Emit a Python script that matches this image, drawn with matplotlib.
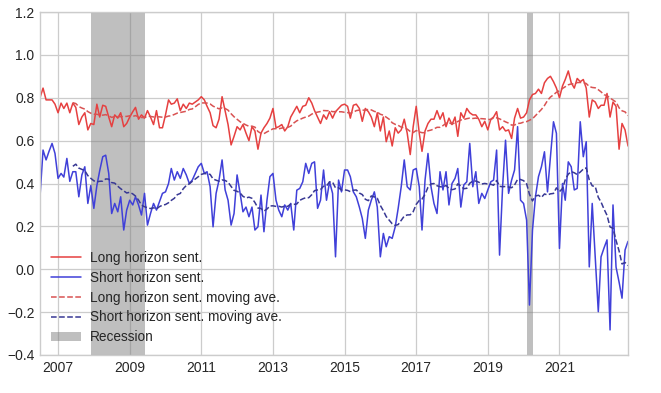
import matplotlib
matplotlib.use("Agg")
import matplotlib.pyplot as plt
import matplotlib.dates as mdates
import pandas as pd
import numpy as np

# Monthly observations, Jul 2006 - Dec 2022
start_month = "2006-07-01"
n_months = 198

long_sent = [
    0.80, 0.845, 0.79, 0.79, 0.79, 0.77,
    0.73, 0.775, 0.75, 0.775, 0.73, 0.775, 0.755, 0.675, 0.71, 0.73, 0.65, 0.68,
    0.675, 0.77, 0.71, 0.765, 0.76, 0.71, 0.665, 0.72, 0.705, 0.73, 0.665, 0.68,
    0.71, 0.735, 0.755, 0.70, 0.72, 0.705, 0.74, 0.71, 0.675, 0.74, 0.66, 0.66,
    0.72, 0.79, 0.77, 0.775, 0.795, 0.74, 0.77, 0.75, 0.775, 0.77, 0.78, 0.79,
    0.805, 0.79, 0.76, 0.73, 0.67, 0.66, 0.70, 0.805, 0.74, 0.675, 0.58, 0.62,
    0.665, 0.65, 0.675, 0.635, 0.60, 0.665, 0.645, 0.56, 0.635, 0.66, 0.68, 0.705,
    0.75, 0.66, 0.665, 0.675, 0.645, 0.665, 0.71, 0.735, 0.76, 0.73, 0.76, 0.765,
    0.80, 0.775, 0.74, 0.71, 0.68, 0.72, 0.70, 0.735, 0.705, 0.735, 0.75, 0.765,
    0.77, 0.76, 0.705, 0.765, 0.77, 0.75, 0.69, 0.75, 0.735, 0.71, 0.665, 0.73,
    0.645, 0.71, 0.595, 0.645, 0.575, 0.66, 0.635, 0.65, 0.70, 0.635, 0.535, 0.665,
    0.76, 0.635, 0.55, 0.645, 0.68, 0.70, 0.70, 0.74, 0.70, 0.73, 0.665, 0.705,
    0.675, 0.71, 0.62, 0.73, 0.705, 0.75, 0.73, 0.72, 0.72, 0.70, 0.665, 0.69,
    0.65, 0.70, 0.71, 0.735, 0.65, 0.665, 0.645, 0.65, 0.61, 0.705, 0.75, 0.705,
    0.71, 0.73, 0.79, 0.815, 0.82, 0.84, 0.82, 0.87, 0.89, 0.90, 0.875, 0.845,
    0.80, 0.855, 0.885, 0.925, 0.87, 0.845, 0.89, 0.875, 0.885, 0.845, 0.71, 0.79,
    0.78, 0.75, 0.765, 0.765, 0.82, 0.71, 0.78, 0.76, 0.56, 0.68, 0.65, 0.575,
]

short_sent = [
    0.338, 0.556, 0.51, 0.55, 0.587, 0.54,
    0.424, 0.447, 0.43, 0.517, 0.41, 0.455, 0.455, 0.338, 0.44, 0.478, 0.307, 0.39,
    0.284, 0.39, 0.46, 0.525, 0.532, 0.447, 0.26, 0.307, 0.268, 0.338, 0.183, 0.276,
    0.322, 0.30, 0.338, 0.30, 0.253, 0.354, 0.206, 0.26, 0.307, 0.276, 0.315, 0.354,
    0.361, 0.40, 0.47, 0.416, 0.455, 0.424, 0.47, 0.44, 0.40, 0.416, 0.447, 0.478,
    0.494, 0.447, 0.455, 0.385, 0.198, 0.354, 0.416, 0.51, 0.37, 0.322, 0.206, 0.26,
    0.44, 0.354, 0.268, 0.29, 0.245, 0.29, 0.183, 0.198, 0.346, 0.175, 0.322, 0.432,
    0.447, 0.322, 0.276, 0.245, 0.30, 0.276, 0.307, 0.183, 0.369, 0.377, 0.408, 0.494,
    0.447, 0.494, 0.501, 0.284, 0.322, 0.463, 0.322, 0.408, 0.354, 0.058, 0.416, 0.361,
    0.463, 0.463, 0.432, 0.361, 0.338, 0.29, 0.237, 0.144, 0.276, 0.322, 0.361, 0.29,
    0.058, 0.167, 0.105, 0.152, 0.144, 0.198, 0.284, 0.385, 0.51, 0.385, 0.37, 0.463,
    0.47, 0.385, 0.183, 0.416, 0.54, 0.385, 0.307, 0.26, 0.455, 0.37, 0.455, 0.30,
    0.40, 0.424, 0.47, 0.29, 0.393, 0.408, 0.587, 0.385, 0.455, 0.307, 0.354, 0.33,
    0.37, 0.408, 0.416, 0.556, 0.066, 0.385, 0.602, 0.354, 0.416, 0.463, 0.665, 0.322,
    0.307, 0.229, -0.167, 0.183, 0.338, 0.432, 0.478, 0.548, 0.361, 0.525, 0.688, 0.634,
    0.097, 0.40, 0.322, 0.501, 0.478, 0.37, 0.377, 0.688, 0.525, 0.595, 0.011, 0.307,
    0.05, -0.198, 0.058, 0.10, 0.137, -0.283, 0.30, 0.01, -0.06, -0.135, 0.09, 0.13,
]

ma_window = 12
recessions = [("2007-12-01", "2009-06-01"), ("2020-02-01", "2020-04-01")]
y_ticks = [-0.4, -0.2, 0.0, 0.2, 0.4, 0.6, 0.8, 1.0, 1.2]
x_tick_years = [2007, 2009, 2011, 2013, 2015, 2017, 2019, 2021]

dates = pd.date_range(start_month, periods=n_months, freq="MS")
df = pd.DataFrame({"long": long_sent, "short": short_sent}, index=dates)
long_ma = df["long"].rolling(ma_window).mean()
short_ma = df["short"].rolling(ma_window).mean()

plt.style.use("seaborn-v0_8-whitegrid")
plt.rcParams["font.family"] = ["Liberation Sans", "DejaVu Sans"]

fig = plt.figure(figsize=(6.61, 3.93), dpi=100)
ax = fig.add_axes([40 / 661, 1 - 355 / 393, (628 - 40) / 661, (355 - 12) / 393])

red = (0.90, 0.25, 0.25)
blue = (0.25, 0.25, 0.85)
red_d = (0.85, 0.32, 0.32)
blue_d = (0.22, 0.22, 0.58)

ax.plot(df.index, df["long"], color=red, lw=1.1, label="Long horizon sent.")
ax.plot(df.index, df["short"], color=blue, lw=1.1, label="Short horizon sent.")
ax.plot(df.index, long_ma, color=red_d, lw=1.1, ls="--", label="Long horizon sent. moving ave.")
ax.plot(df.index, short_ma, color=blue_d, lw=1.1, ls="--", label="Short horizon sent. moving ave.")
for i, (s, e) in enumerate(recessions):
    ax.axvspan(pd.Timestamp(s), pd.Timestamp(e), color="grey", alpha=0.5, lw=0,
               label="Recession" if i == 0 else None)

ax.set_xlim(dates[0], dates[-1])
ax.set_ylim(-0.4, 1.2)
ax.set_yticks(y_ticks)
ax.set_yticklabels([f"{v:.1f}".replace("-", "\u2212") for v in y_ticks])
ax.set_xticks([pd.Timestamp(f"{y}-01-01") for y in x_tick_years])
ax.xaxis.set_major_formatter(mdates.DateFormatter("%Y"))
ax.tick_params(labelsize=10, colors="0.15", length=0, pad=4)
ax.grid(True, color="0.8", lw=0.9)
for sp in ax.spines.values():
    sp.set_color("0.8")

ax.legend(loc="lower left", frameon=False, fontsize=9.8, handlelength=2.2,
          handletextpad=0.7, labelspacing=0.42, borderaxespad=0.4)

fig.savefig("out.png", dpi=100)
